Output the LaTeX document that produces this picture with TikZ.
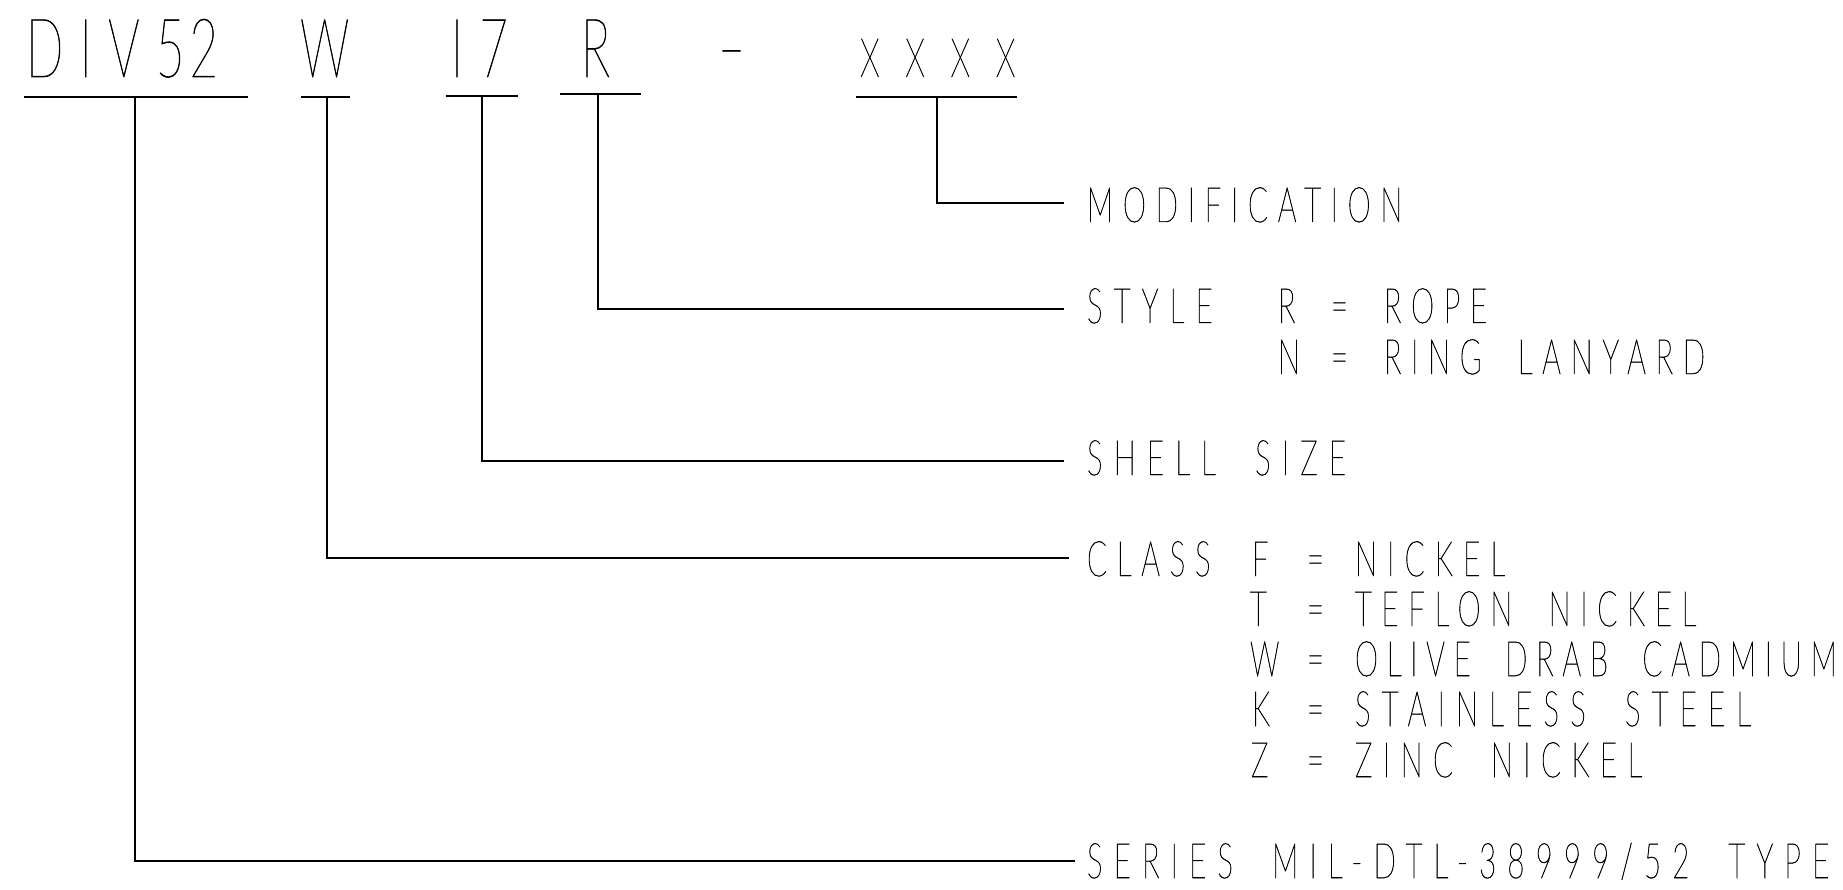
\documentclass[tikz,border=0pt]{standalone}
\usepackage{fontspec}
\usetikzlibrary{calc}
\IfFontExistsTF{Lato Thin}
 {\newfontfamily\cadfont[FakeStretch=0.6,LetterSpace=20,FakeBold=1.0,WordSpace=2]{Lato Thin}
  \newfontfamily\cadbig[FakeStretch=0.6,LetterSpace=20,FakeBold=0.7]{Lato Thin}}
 {\newfontfamily\cadfont[FakeStretch=0.45,LetterSpace=29,WordSpace=3]{Liberation Sans}
  \newfontfamily\cadbig[FakeStretch=0.45,LetterSpace=29]{Liberation Sans}}
\newcommand{\lsp}[1]{\addfontfeature{LetterSpace=#1}}
\tikzset{
  lbl/.style={anchor=base west, inner sep=0pt, outer sep=0pt, text=black,
              font={\cadfont\fontsize{48.9pt}{50pt}\selectfont}},
  big/.style={anchor=base west, inner sep=0pt, outer sep=0pt, text=black,
              font={\cadbig\fontsize{82pt}{84pt}\selectfont}},
  xx/.style={anchor=base west, inner sep=0pt, outer sep=0pt, text=black,
              font={\cadbig\fontsize{54.5pt}{56pt}\selectfont\addfontfeature{LetterSpace=47}}},
  ul/.style={line width=2.7pt},
  conn/.style={line width=2.6pt},
}
\begin{document}
\begin{tikzpicture}[x=1pt,y=-1pt]
\path[use as bounding box] (0,0) rectangle (1843,890);

% part number
\node[big] (pDIV) at (26,77) {DIV5\kern5pt 2};
\node[big] (pW) at (300,77) {W};
\node[big] (pI7) at (451,77) {I7};
\node[big] (pR) at (581,77) {R};
\node[big] (pdash) at (717,75) {\scalebox{1.6}[1]{-}};
\node[xx] (pX) at (860,77) {XXXX};

% underlines
\coordinate (u1a) at (24,97);  \coordinate (u1b) at (248,97);
\coordinate (u2a) at (301,97); \coordinate (u2b) at (350,97);
\coordinate (u3a) at (446,96); \coordinate (u3b) at (518,96);
\coordinate (u4a) at (560,94); \coordinate (u4b) at (641,94);
\coordinate (u5a) at (856,97); \coordinate (u5b) at (1017,97);
\draw[ul] (u1a) -- (u1b);
\draw[ul] (u2a) -- (u2b);
\draw[ul] (u3a) -- (u3b);
\draw[ul] (u4a) -- (u4b);
\draw[ul] (u5a) -- (u5b);

\coordinate (t1) at (135,97);
\coordinate (t2) at (327,97);
\coordinate (t3) at (482,96);
\coordinate (t4) at (598,94);
\coordinate (t5) at (937,97);

\coordinate (e1) at (1075,861);
\coordinate (e2) at (1069,558);
\coordinate (e3) at (1064,461);
\coordinate (e4) at (1064,309);
\coordinate (e5) at (1064,203);

\draw[conn] (t1) |- (e1);
\draw[conn] (t2) |- (e2);
\draw[conn] (t3) |- (e3);
\draw[conn] (t4) |- (e4);
\draw[conn] (t5) |- (e5);

% labels
\node[lbl] (lmod) at (1087,222) {MODIFICATION};

\node[lbl] (lsty) at (1087,323) {\lsp{23}STYLE};
\node[lbl] (lsR) at (1278,323) {R};
\node[lbl] (lsReq) at (1331,323) {=};
\node[lbl] (lsRv) at (1384,323) {ROPE};
\node[lbl] (lsN) at (1278,374) {N};
\node[lbl] (lsNeq) at (1331,374) {=};
\node[lbl] (lsNv) at (1384,374) {RING LANYARD};

\node[lbl] (lshell) at (1087,475) {\lsp{23}SHELL SIZE};

\node[lbl] (lcls) at (1087,576) {CLASS};
\node[lbl] (lcF) at (1252,576) {F};
\node[lbl] (lcFeq) at (1307,576) {=};
\node[lbl] (lcFv) at (1355,576) {\lsp{21}NICKEL};
\node[lbl] (lcT) at (1250,626) {T};
\node[lbl] (lcTeq) at (1307,626) {=};
\node[lbl] (lcTv) at (1355,626) {TEFLON NICKEL};
\node[lbl] (lcW) at (1250,676) {W};
\node[lbl] (lcWeq) at (1307,676) {=};
\node[lbl] (lcWv) at (1355,676) {\lsp{18}OLIVE DRAB CADMIUM};
\node[lbl] (lcK) at (1252,726) {K};
\node[lbl] (lcKeq) at (1307,726) {=};
\node[lbl] (lcKv) at (1355,726) {\lsp{23}STAINLESS STEEL};
\node[lbl] (lcZ) at (1251,777) {Z};
\node[lbl] (lcZeq) at (1307,777) {=};
\node[lbl] (lcZv) at (1355,777) {\lsp{21.5}ZINC NICKEL};

\node[lbl] (lser) at (1087,878) {\lsp{23}SERIES MIL-DTL-38999/52 TYPE};
\end{tikzpicture}
\end{document}
